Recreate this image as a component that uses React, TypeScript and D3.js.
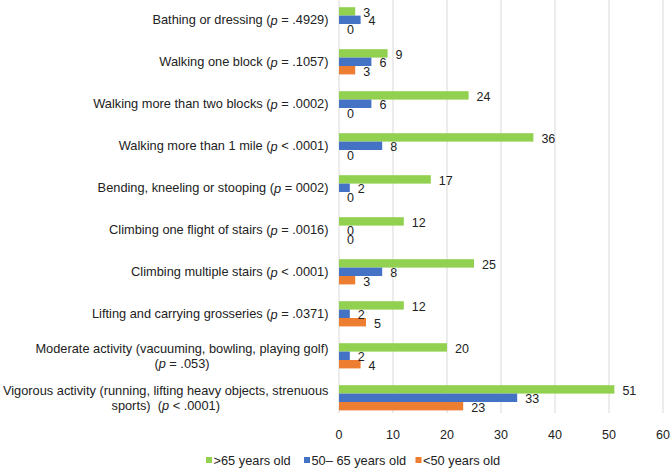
import React from "react";
import * as d3 from "d3";

const categories: string[][] = [
  ["Bathing or dressing (p = .4929)"],
  ["Walking one block (p = .1057)"],
  ["Walking more than two blocks (p = .0002)"],
  ["Walking more than 1 mile (p < .0001)"],
  ["Bending, kneeling or stooping (p = 0002)"],
  ["Climbing one flight of stairs (p = .0016)"],
  ["Climbing multiple stairs (p < .0001)"],
  ["Lifting and carrying grosseries (p = .0371)"],
  ["Moderate activity (vacuuming, bowling, playing golf)", "(p = .053)"],
  ["Vigorous activity (running, lifting heavy objects, strenuous", "sports)  (p < .0001)"],
];

const seriesNames = [">65 years old", "50\u2013 65 years old", "<50 years old"];
const over65 = [3, 9, 24, 36, 17, 12, 25, 12, 20, 51];
const age50to65 = [4, 6, 6, 8, 2, 0, 8, 2, 2, 33];
const under50 = [0, 3, 0, 0, 0, 0, 3, 5, 4, 23];
const xTicks = [0, 10, 20, 30, 40, 50, 60];

const colors = ["#92D050", "#4472C4", "#ED7D31"];
const FONT = '"Liberation Sans", Arial, Helvetica, sans-serif';
const FS_LABEL = 12.8;
const FS_NUM = 12.5;

const W = 671;
const H = 471;
const plotLeft = 339;
const plotRight = 663;
const plotTop = 0;
const plotBottom = 413;

let ctx: CanvasRenderingContext2D | null = null;
function measure(t: string): number {
  if (!ctx) ctx = document.createElement("canvas").getContext("2d");
  if (!ctx) return t.length * 6.5;
  ctx.font = `${FS_LABEL}px ${FONT}`;
  return ctx.measureText(t).width;
}

function renderLine(s: string) {
  const idx = s.indexOf("(p ");
  if (idx < 0) return s;
  return (
    <>
      {s.slice(0, idx + 1)}
      <tspan fontStyle="italic">p</tspan>
      {s.slice(idx + 2)}
    </>
  );
}

export default function App() {
  const x = d3.scaleLinear().domain([0, 60]).range([plotLeft, plotRight]);
  const y = d3
    .scaleBand<number>()
    .domain(d3.range(categories.length))
    .range([-1.2, 418.8])
    .paddingInner(0)
    .paddingOuter(0);
  const groupH = 25.2;
  const sub = d3.scaleBand<number>().domain([0, 1, 2]).range([0, groupH]);
  const series = [over65, age50to65, under50];
  const labelX = plotLeft - 10.5;

  const legendY = 460;
  const legendStarts = [206, 304, 415.5];

  return (
    <svg
      width={W}
      height={H}
      style={{ position: "absolute", left: 0, top: 0, background: "#fff" }}
      fontFamily={FONT}
      fontSize={FS_NUM}
    >
      <rect x={0} y={0} width={W} height={H} fill="#fff" />
      {xTicks.map((t) => (
        <line
          key={"g" + t}
          x1={x(t)}
          x2={x(t)}
          y1={plotTop}
          y2={plotBottom}
          stroke="#d9d9d9"
          strokeWidth={1}
        />
      ))}
      {xTicks.map((t) => (
        <text
          key={"t" + t}
          x={x(t)}
          y={435}
          textAnchor="middle"
          dominantBaseline="central"
          fill="#222"
        >
          {t}
        </text>
      ))}
      {categories.map((lines, i) => {
        const c = (y(i) as number) + y.bandwidth() / 2;
        const g0 = c - groupH / 2;
        const lh = 15;
        const w1 = measure(lines[0]);
        return (
          <g key={"c" + i}>
            {series.map((vals, s) => (
              <rect
                key={"b" + s}
                x={x(0)}
                y={g0 + (sub(s) as number)}
                width={x(vals[i]) - x(0)}
                height={sub.bandwidth()}
                fill={colors[s]}
              />
            ))}
            {series.map((vals, s) => (
              <text
                key={"v" + s}
                x={x(vals[i]) + 8}
                y={g0 + (sub(s) as number) + sub.bandwidth() / 2 + 1.5}
                dominantBaseline="central"
                fill="#222"
              >
                {vals[i]}
              </text>
            ))}
            {lines.map((ln, k) => (
              <text
                key={"l" + k}
                x={k === 0 ? labelX : labelX - w1 / 2}
                y={c + (k - (lines.length - 1) / 2) * lh}
                textAnchor={k === 0 ? "end" : "middle"}
                dominantBaseline="central"
                fill="#222"
                fontSize={FS_LABEL}
                style={{ whiteSpace: "pre" }}
              >
                {renderLine(ln)}
              </text>
            ))}
          </g>
        );
      })}
      {seriesNames.map((n, s) => (
        <g key={"lg" + s}>
          <rect x={legendStarts[s]} y={legendY - 3} width={6} height={6} fill={colors[s]} />
          <text
            x={legendStarts[s] + 7.5}
            y={legendY}
            dominantBaseline="central"
            fill="#222"
            fontSize={FS_LABEL}
          >
            {n}
          </text>
        </g>
      ))}
    </svg>
  );
}
